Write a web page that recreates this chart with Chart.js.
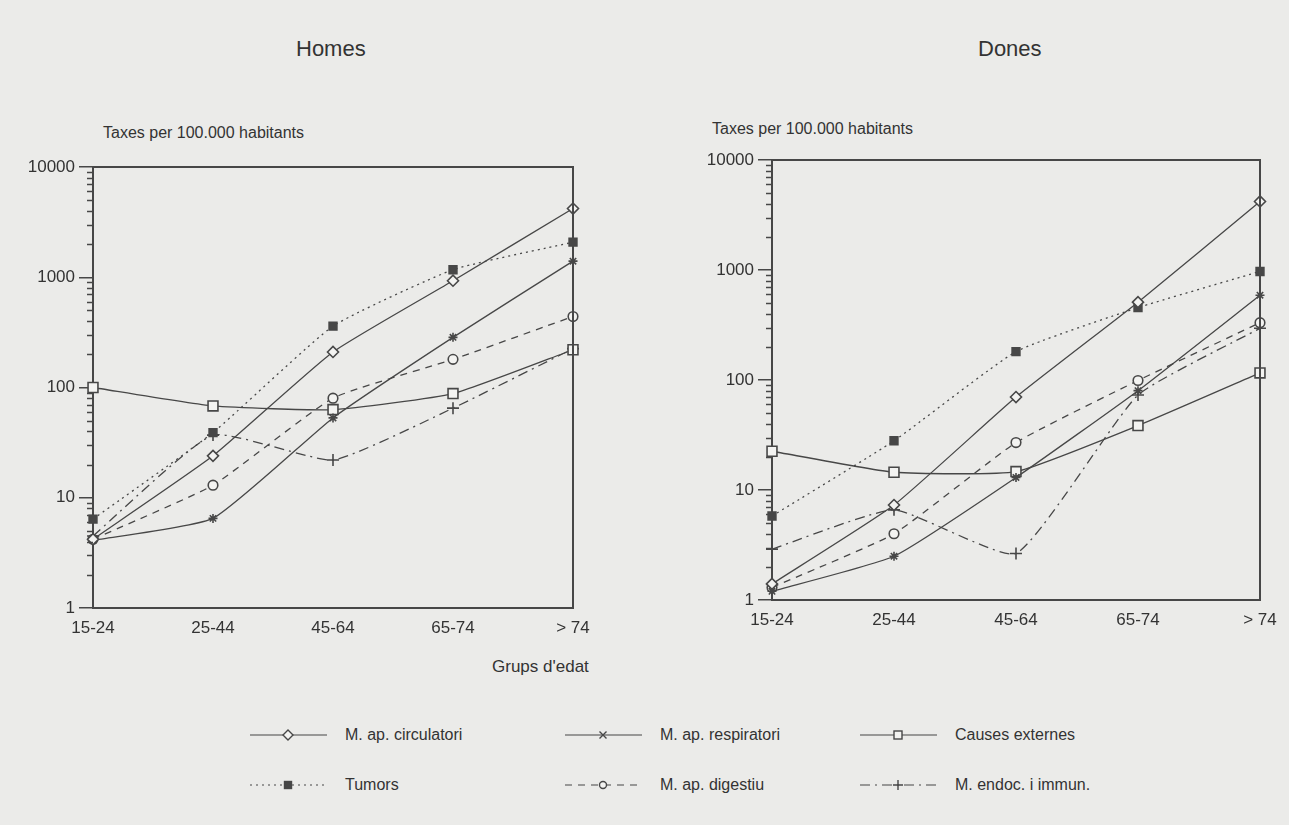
<!DOCTYPE html>
<html>
<head>
<meta charset="utf-8">
<title>Taxes de mortalitat per grups d'edat</title>
<script src="https://cdn.jsdelivr.net/npm/chart.js@4.4.1/dist/chart.umd.min.js"></script>
<style>
  body { margin:0; width:1289px; height:825px; position:relative; overflow:hidden;
         background:#ebebe9; font-family:"Liberation Sans", Arial, sans-serif; color:#333; }
  canvas { position:absolute; top:0; }
  .txt { position:absolute; white-space:nowrap; line-height:1; }
  .legend-item { position:absolute; display:flex; align-items:center; font-size:16px; }
  .legend-item svg { margin-right:18px; }
</style>
</head>
<body>

<div class="txt" style="left:296px; top:38px; font-size:22px;">Homes</div>
<div class="txt" style="left:978px; top:38px; font-size:22px;">Dones</div>
<div class="txt" style="left:103px; top:125px; font-size:16px;">Taxes per 100.000 habitants</div>
<div class="txt" style="left:712px; top:121px; font-size:16px;">Taxes per 100.000 habitants</div>
<div class="txt" style="left:492px; top:658px; font-size:17px;">Grups d'edat</div>

<canvas id="homes" width="640" height="700" style="left:0px;"></canvas>
<canvas id="dones" width="639" height="700" style="left:650px;"></canvas>

<div id="legend"></div>

<script>
// age groups and y-axis decades
const ageGroups = ['15-24', '25-44', '45-64', '65-74', '> 74'];
const decades = [1, 10, 100, 1000, 10000];

const causes = ['M. ap. circulatori', 'M. ap. respiratori', 'Causes externes',
                'Tumors', 'M. ap. digestiu', 'M. endoc. i immun.'];

// rates per 100.000, men
const homesCirculatori = [4.2, 24, 210, 930, 4200];
const homesRespiratori = [4.1, 6.5, 53, 285, 1400];
const homesExternes    = [100, 68, 63, 88, 220];
const homesTumors      = [6.4, 39, 360, 1170, 2080];
const homesDigestiu    = [4.2, 13, 80, 180, 440];
const homesEndoc       = [4.5, 37, 22, 65, 225];

// rates per 100.000, women
const donesCirculatori = [1.4, 7.3, 70, 510, 4200];
const donesRespiratori = [1.2, 2.5, 13, 80, 590];
const donesExternes    = [22.5, 14.5, 14.7, 38.5, 116];
const donesTumors      = [5.8, 28, 181, 455, 970];
const donesDigestiu    = [1.3, 4.0, 27, 99, 332];
const donesEndoc       = [2.9, 6.6, 2.65, 73, 295];

const INK = '#474747';
const PAPER = '#f3f3f1';

// line dash + marker for each cause
const styles = [
  { dash: [],            point: 'rectRot',  radius: 5.5, fill: PAPER },
  { dash: [],            point: 'star',     radius: 4.5, fill: PAPER },
  { dash: [],            point: 'rect',     radius: 7,   fill: PAPER },
  { dash: [2, 4],        point: 'rect',     radius: 5.5, fill: INK },
  { dash: [7, 6],        point: 'circle',   radius: 4.8, fill: PAPER },
  { dash: [10, 5, 2, 5], point: 'cross',    radius: 6,   fill: PAPER }
];

function buildDatasets(series) {
  return series.map((data, i) => ({
    label: causes[i],
    data: data,
    borderColor: INK,
    borderWidth: 1.3,
    borderDash: styles[i].dash,
    tension: 0.15,
    pointStyle: styles[i].point,
    pointRadius: styles[i].radius,
    pointBorderWidth: 1.6,
    pointBorderColor: INK,
    pointBackgroundColor: styles[i].fill,
    fill: false
  }));
}

// top/right frame plus minor log ticks on the y axis
const frameAndMinorTicks = {
  id: 'frameAndMinorTicks',
  afterDraw(chart) {
    const { ctx, chartArea: a, scales: { y } } = chart;
    ctx.save();
    ctx.strokeStyle = INK;
    ctx.lineWidth = 2;
    ctx.beginPath();
    ctx.moveTo(a.left, a.top);
    ctx.lineTo(a.right, a.top);
    ctx.lineTo(a.right, a.bottom);
    ctx.stroke();
    ctx.lineWidth = 1.3;
    ctx.beginPath();
    decades.slice(0, -1).forEach(d => {
      for (let m = 2; m <= 9; m++) {
        const py = Math.round(y.getPixelForValue(d * m)) + 0.5;
        ctx.moveTo(a.left - 6, py);
        ctx.lineTo(a.left, py);
      }
    });
    ctx.stroke();
    ctx.restore();
  }
};

function makeChart(id, series, g) {
  return new Chart(document.getElementById(id), {
    type: 'line',
    data: { labels: ageGroups, datasets: buildDatasets(series) },
    options: {
      responsive: false,
      animation: false,
      layout: { padding: { left: 0, top: g.top, right: g.right, bottom: 0 } },
      plugins: { legend: { display: false }, tooltip: { enabled: false } },
      scales: {
        x: {
          type: 'category',
          offset: false,
          afterFit: s => { s.height = g.xh; s.paddingLeft = 0; s.paddingRight = 0; },
          border: { display: true, color: INK, width: 2 },
          grid: { display: false, drawTicks: false },
          ticks: { color: '#333', font: { family: 'Liberation Sans', size: 17 }, padding: 10, maxRotation: 0, autoSkip: false }
        },
        y: {
          type: 'logarithmic',
          min: 1,
          max: 10000,
          afterBuildTicks: s => { s.ticks = decades.map(v => ({ value: v })); },
          afterFit: s => { s.width = g.yw; s.paddingTop = 0; s.paddingBottom = 0; },
          border: { display: true, color: INK, width: 2 },
          grid: { drawOnChartArea: false, tickLength: 14, color: INK, lineWidth: 1.5 },
          ticks: { color: '#333', font: { family: 'Liberation Sans', size: 17 }, padding: 4, autoSkip: false,
                   callback: v => String(v) }
        }
      }
    },
    plugins: [frameAndMinorTicks]
  });
}

makeChart('homes',
  [homesCirculatori, homesRespiratori, homesExternes, homesTumors, homesDigestiu, homesEndoc],
  { top: 167, right: 67, yw: 93, xh: 92 });

makeChart('dones',
  [donesCirculatori, donesRespiratori, donesExternes, donesTumors, donesDigestiu, donesEndoc],
  { top: 160, right: 29, yw: 122, xh: 100 });

// legend: line sample with its marker, then the cause name
function markerSvg(s, cx, cy) {
  const st = `stroke="${INK}" stroke-width="1.4"`;
  switch (s.point) {
    case 'rectRot': return `<polygon points="${cx},${cy-5} ${cx+5},${cy} ${cx},${cy+5} ${cx-5},${cy}" fill="${PAPER}" ${st}/>`;
    case 'star':    return `<path d="M${cx-3.5} ${cy-3.5}L${cx+3.5} ${cy+3.5}M${cx+3.5} ${cy-3.5}L${cx-3.5} ${cy+3.5}" ${st}/>`;
    case 'rect':    return s.fill === INK
      ? `<rect x="${cx-3.5}" y="${cy-3.5}" width="7" height="7" fill="${INK}" ${st}/>`
      : `<rect x="${cx-4}" y="${cy-4}" width="8" height="8" fill="${PAPER}" ${st}/>`;
    case 'circle':  return `<circle cx="${cx}" cy="${cy}" r="3.5" fill="${PAPER}" ${st}/>`;
    case 'cross':   return `<path d="M${cx-5} ${cy}L${cx+5} ${cy}M${cx} ${cy-5}L${cx} ${cy+5}" ${st}/>`;
  }
  return '';
}

const legendCols = [250, 565, 860];
const legendRows = [735, 785];
const legend = document.getElementById('legend');
causes.forEach((name, i) => {
  const s = styles[i];
  const item = document.createElement('div');
  item.className = 'legend-item';
  item.style.left = legendCols[i % 3] + 'px';
  item.style.top = (legendRows[Math.floor(i / 3)] - 10) + 'px';
  const dash = s.dash.length ? `stroke-dasharray="${s.dash.join(' ')}"` : '';
  item.innerHTML =
    `<svg width="77" height="20"><line x1="0" y1="10" x2="77" y2="10" stroke="${INK}" stroke-width="1.2" ${dash}/>` +
    markerSvg(s, 38, 10) + `</svg><span>${name}</span>`;
  legend.appendChild(item);
});
</script>
</body>
</html>
